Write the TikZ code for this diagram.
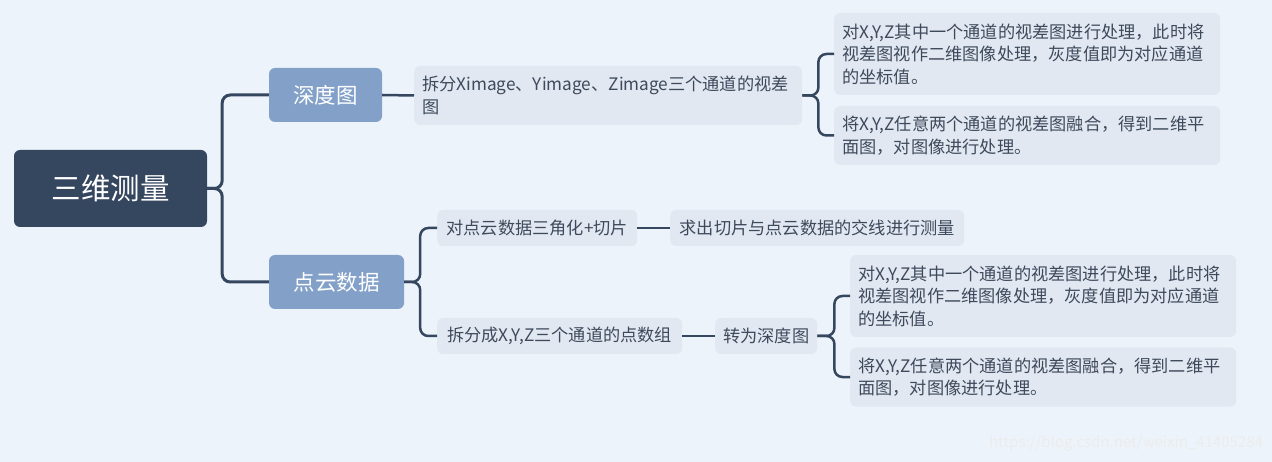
\documentclass[tikz,border=0pt]{standalone}
\usepackage{fontspec}
\setmainfont{Noto Sans CJK SC}
\usepackage{xcolor}
\usetikzlibrary{positioning}

\definecolor{bgc}{HTML}{EDF3FA}
\definecolor{rootc}{HTML}{35465F}
\definecolor{topicc}{HTML}{83A1C8}
\definecolor{leafc}{HTML}{E1E8F1}
\definecolor{textc}{HTML}{3E4A5C}
\definecolor{linec}{HTML}{35465F}

\tikzset{
rootnode/.style={fill=rootc, text=white, rounded corners=6pt, minimum width=193pt, minimum height=77pt, font=\fontsize{29.5}{34}\selectfont},
topicnode/.style={fill=topicc, text=white, rounded corners=6pt, minimum height=54pt, inner xsep=12pt, font=\fontsize{21.5}{26}\selectfont},
leafnode/.style={fill=leafc, text=textc, rounded corners=6pt, anchor=west, minimum height=36pt, inner xsep=8pt, align=left, font=\fontsize{17.2}{22.5}\selectfont},
rootline/.style={draw=linec, line width=3pt, rounded corners=8pt},
leafline/.style={draw=linec, line width=2.5pt, rounded corners=8pt}
}

\begin{document}
\begin{tikzpicture}[x=1pt,y=-1pt]
\fill[bgc] (0,0) rectangle (1272,462);
\useasboundingbox (0,0) rectangle (1272,462);

% Nodes
\node[rootnode] (root) at (110.5,188.5) {三维测量};
\node[topicnode, minimum width=113pt] (depth) at (325.5,95) {深度图};
\node[topicnode, minimum width=135pt] (cloud) at (336.5,282) {点云数据};

\node[leafnode, text width=372pt, minimum height=59pt] (split) at (414,95.5) {拆分Ximage、Yimage、Zimage三个通道的视差\\图};
\node[leafnode, text width=370pt, minimum height=82pt] (depthA) at (834,54) {对X,Y,Z其中一个通道的视差图进行处理，此时将\\视差图视作二维图像处理，灰度值即为对应通道\\的坐标值。};
\node[leafnode, text width=370pt, minimum height=59pt] (depthB) at (834,135.5) {将X,Y,Z任意两个通道的视差图融合，得到二维平\\面图，对图像进行处理。};

\node[leafnode, minimum width=200pt] (tri) at (437,228) {对点云数据三角化+切片};
\node[leafnode, minimum width=294pt] (cut) at (670,228) {求出切片与点云数据的交线进行测量};
\node[leafnode, minimum width=245pt] (xyz) at (437,336) {拆分成X,Y,Z三个通道的点数组};
\node[leafnode, minimum width=102pt] (todepth) at (715,336) {转为深度图};

\node[leafnode, text width=370pt, minimum height=82pt] (cloudA) at (850,296) {对X,Y,Z其中一个通道的视差图进行处理，此时将\\视差图视作二维图像处理，灰度值即为对应通道\\的坐标值。};
\node[leafnode, text width=370pt, minimum height=59pt] (cloudB) at (850,377) {将X,Y,Z任意两个通道的视差图融合，得到二维平\\面图，对图像进行处理。};

\node[text=white!85!gray, font=\fontsize{15}{18}\selectfont] (mark) at (1126,443) {https://blog.csdn.net/weixin\_41405284};

% Connectors
\draw[rootline] (root.east) -- ++(15,0) |- (depth.west);
\draw[rootline] (root.east) -- ++(15,0) |- (cloud.west);
\draw[leafline] (depth.east) -- (split.west);
\draw[leafline] (split.east) -- ++(16,0) |- (depthA.west);
\draw[leafline] (split.east) -- ++(16,0) |- (depthB.west);
\draw[leafline] (cloud.east) -- ++(16,0) |- (tri.west);
\draw[leafline] (cloud.east) -- ++(16,0) |- (xyz.west);
\draw[leafline] (tri.east) -- (cut.west);
\draw[leafline] (xyz.east) -- (todepth.west);
\draw[leafline] (todepth.east) -- ++(17,0) |- (cloudA.west);
\draw[leafline] (todepth.east) -- ++(17,0) |- (cloudB.west);

\end{tikzpicture}
\end{document}
